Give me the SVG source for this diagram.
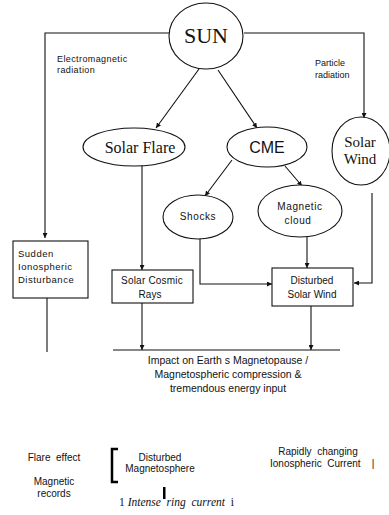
<svg xmlns="http://www.w3.org/2000/svg" width="389" height="515" viewBox="0 0 389 515">
<style>
.n{fill:#fff;stroke:#111;stroke-width:1.1}
.c{fill:none;stroke:#111;stroke-width:1.1}
.s{font-family:"Liberation Sans",Arial,sans-serif;fill:#111}
.r{font-family:"Liberation Serif","Times New Roman",serif;fill:#111}
</style>
<defs>
<marker id="a" viewBox="0 0 6 6" refX="6" refY="3" markerWidth="5" markerHeight="5" orient="auto" markerUnits="userSpaceOnUse">
<path d="M0,0 L6,3 L0,6 Z" fill="#111"/>
</marker>
</defs>
<rect width="389" height="515" fill="#fff"/>
<g id="connectors">
<path class="c" d="M169,33 H45 V238" marker-end="url(#a)"/>
<path class="c" d="M244,33 H364 V118" marker-end="url(#a)"/>
<path class="c" d="M199,69 L156,128" marker-end="url(#a)"/>
<path class="c" d="M218,70 L257,128" marker-end="url(#a)"/>
<path class="c" d="M232,160 L205,196" marker-end="url(#a)"/>
<path class="c" d="M285,166 L302,186" marker-end="url(#a)"/>
<path class="c" d="M307,237 V268" marker-end="url(#a)"/>
<path class="c" d="M200,238 V284 H272" marker-end="url(#a)"/>
<path class="c" d="M372,193 V283 H354" marker-end="url(#a)"/>
<path class="c" d="M142,165 V270" marker-end="url(#a)"/>
<path class="c" d="M142,303 V350" marker-end="url(#a)"/>
<path class="c" d="M311,306 V350" marker-end="url(#a)"/>
<path class="c" d="M113,350 H340"/>
<path class="c" d="M47,298 V352"/>
</g>
<g id="sun">
<ellipse class="n" cx="206" cy="36" rx="37" ry="33"/>
<text class="r" x="206" y="43" font-size="22" text-anchor="middle">SUN</text>
</g>
<g id="em-label">
<text class="s" x="57" y="62" font-size="9" letter-spacing="0.4">Electromagnetic</text>
<text class="s" x="57" y="73" font-size="9" letter-spacing="0.4">radiation</text>
</g>
<g id="particle-label">
<text class="s" x="315" y="66" font-size="9">Particle</text>
<text class="s" x="315" y="78" font-size="9">radiation</text>
</g>
<g id="solar-flare">
<ellipse class="n" cx="134" cy="147" rx="51" ry="19"/>
<text class="r" x="140" y="153" font-size="16" text-anchor="middle">Solar Flare</text>
</g>
<g id="cme">
<ellipse class="n" cx="267" cy="147" rx="40" ry="20"/>
<text class="s" x="267" y="153" font-size="16" text-anchor="middle">CME</text>
</g>
<g id="solar-wind">
<ellipse class="n" cx="361" cy="151" rx="29" ry="34"/>
<text class="r" x="360" y="147" font-size="15" text-anchor="middle">Solar</text>
<text class="r" x="360" y="164" font-size="15" text-anchor="middle">Wind</text>
</g>
<g id="shocks">
<ellipse class="n" cx="198" cy="217" rx="35" ry="22"/>
<text class="s" x="198" y="220" font-size="10" letter-spacing="0.6" text-anchor="middle">Shocks</text>
</g>
<g id="magnetic-cloud">
<ellipse class="n" cx="300" cy="211" rx="42" ry="26"/>
<text class="s" x="300" y="210" font-size="10" letter-spacing="0.6" text-anchor="middle">Magnetic</text>
<text class="s" x="298" y="224" font-size="10" letter-spacing="0.6" text-anchor="middle">cloud</text>
</g>
<g id="sudden">
<rect class="n" x="13" y="241" width="75" height="57"/>
<text class="s" x="18" y="257" font-size="9.5" letter-spacing="0.5">Sudden</text>
<text class="s" x="18" y="270" font-size="9.5" letter-spacing="0.5">Ionospheric</text>
<text class="s" x="18" y="283" font-size="9.5" letter-spacing="0.5">Disturbance</text>
</g>
<g id="cosmic-rays">
<rect class="n" x="112" y="270" width="81" height="33"/>
<text class="s" x="152" y="284" font-size="10" letter-spacing="0.2" text-anchor="middle">Solar Cosmic</text>
<text class="s" x="150" y="298" font-size="10" text-anchor="middle">Rays</text>
</g>
<g id="disturbed-sw">
<rect class="n" x="272" y="268" width="81" height="38"/>
<text class="s" x="312" y="284" font-size="10" text-anchor="middle">Disturbed</text>
<text class="s" x="312" y="298" font-size="10" text-anchor="middle">Solar Wind</text>
</g>
<g id="impact">
<text class="s" x="228" y="364" font-size="10.5" text-anchor="middle">Impact on Earth s Magnetopause /</text>
<text class="s" x="228" y="378" font-size="10.5" text-anchor="middle">Magnetospheric compression &amp;</text>
<text class="s" x="228" y="392" font-size="10.5" text-anchor="middle">tremendous energy input</text>
</g>
<g id="flare-effect">
<text class="s" x="54" y="461" font-size="10" text-anchor="middle" xml:space="preserve">Flare  effect</text>
</g>
<g id="magnetic-records">
<text class="s" x="54" y="485" font-size="10" text-anchor="middle">Magnetic</text>
<text class="s" x="54" y="497" font-size="10" text-anchor="middle">records</text>
</g>
<g id="disturbed-magnetosphere">
<path d="M118,449 H112 V482 H118" fill="none" stroke="#000" stroke-width="2.5"/>
<text class="s" x="160" y="461" font-size="10" text-anchor="middle">Disturbed</text>
<text class="s" x="160" y="472" font-size="10" text-anchor="middle">Magnetosphere</text>
<rect x="163" y="487" width="2.5" height="12" fill="#000"/>
</g>
<g id="ring-current">
<text class="r" x="119" y="506" font-size="11.5" xml:space="preserve">1 <tspan font-style="italic">Intense  ring  current</tspan>  i</text>
</g>
<g id="ionospheric-current">
<text class="s" x="318" y="455" font-size="10" text-anchor="middle" xml:space="preserve">Rapidly  changing</text>
<text class="s" x="270" y="467" font-size="10" xml:space="preserve">Ionospheric  Current    |</text>
</g>
</svg>
